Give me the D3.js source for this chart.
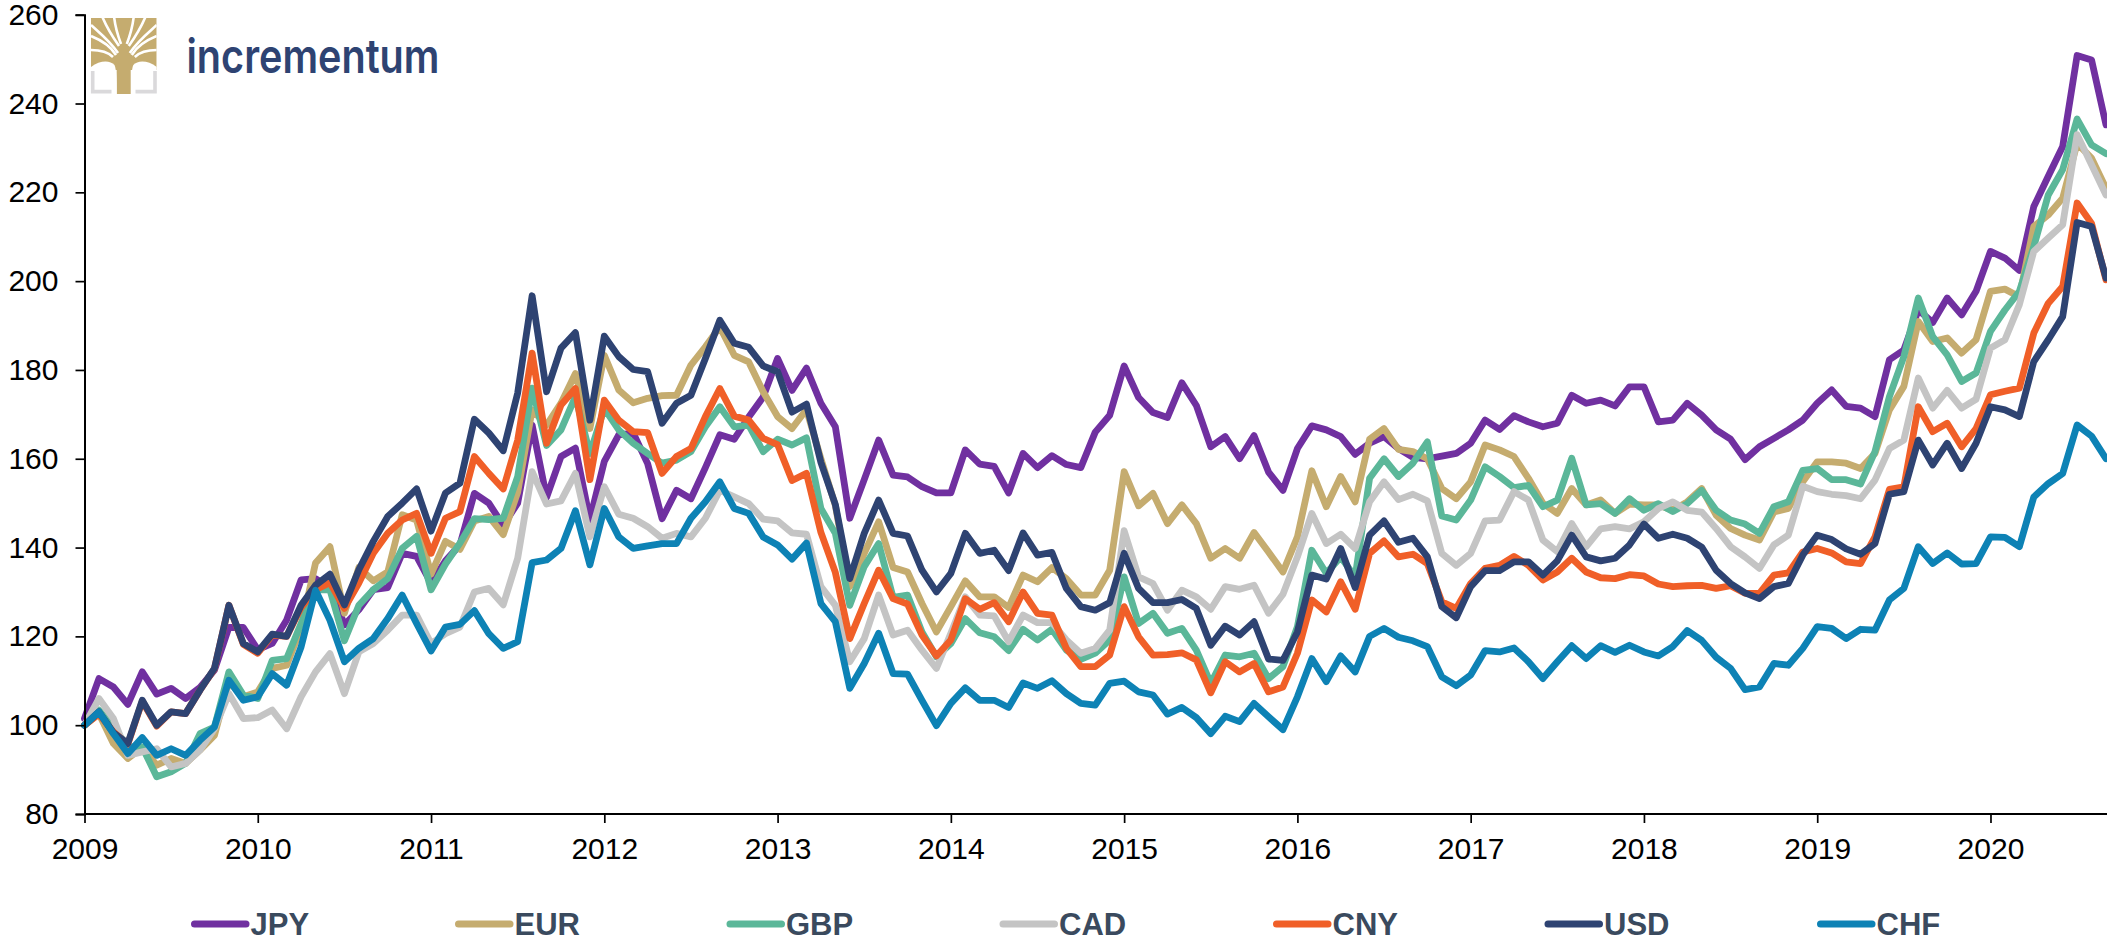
<!DOCTYPE html>
<meta charset="utf-8">
<style>
body { margin: 0; background: #fff; overflow: hidden; }
svg { display: block; }
text { font-family: "Liberation Sans", Arial, sans-serif; }
</style>
<body>
<div id="chart"><svg></svg></div>
<script src="https://cdn.jsdelivr.net/npm/d3@7"></script>
<script>

var currencies = ["JPY", "EUR", "GBP", "CAD", "CNY", "USD", "CHF"];
var yTicks = [80, 100, 120, 140, 160, 180, 200, 220, 240, 260];
var yearTicks = [2009, 2010, 2011, 2012, 2013, 2014, 2015, 2016, 2017, 2018, 2019, 2020];

// monthly, Jan 2009 to Sep 2020, one row per year
var JPY = [
  101.5,110.5,108.6,104.7,112,107,108.3,106,108.5,112.4,122,122,
  117,118.4,123.7,132.7,133,131,122.6,126,130.5,131,138.7,138,
  132,137,140.6,152.2,150,145,150,167.6,151.3,160.5,162.4,146.3,
  159.4,165.4,165.8,158.9,146.5,152.9,151,158,165.4,164.4,169.4,173.9,
  182.6,175.4,180.4,172.5,167.2,146.6,155.3,164.2,156.3,155.9,153.7,152.3,
  152.3,162,158.8,158.3,152.3,161.2,158,160.7,158.7,158,166,169.8,
  180.9,173.8,170.4,169.3,177.1,172,162.7,165,160,165.2,157,152.9,
  162.3,167.4,166.5,165,161,163.5,165,162.3,160.3,160,160.6,161.2,
  163.5,168.7,166.6,169.7,168.3,167.2,168,174.3,172.5,173.2,171.9,176.2,
  176.2,168.3,168.7,172.5,169.8,166.5,164.4,159.8,162.7,164.6,166.5,168.7,
  172.5,175.5,171.8,171.4,169.5,182.3,184.5,193.5,190.7,196.2,192.4,197.7,
  206.7,205.2,202.4,216.8,223.6,230.3,250.8,249.8,235.2
];
var EUR = [
  100,102.6,95.9,92.5,95,91,92.5,91.4,94.4,97.7,109.8,106.4,
  107.5,112.8,113.5,122,136.5,140.2,125.2,135.5,132.5,134.5,147.4,146.2,
  134,141.4,139.6,146,147,142.9,152.5,171,167.6,172.5,179.2,166.8,
  183.3,175.5,172.6,173.6,174.2,174.3,181.1,185.2,189.7,183.3,181.8,175.1,
  169.5,166.8,171.1,160,149.5,131.2,138.7,145.8,135.5,134.5,127.4,121,
  126.7,132.5,128.9,128.9,126.5,133.8,132.3,135.5,133,129.3,129.3,134.9,
  157.1,149.4,152.2,145.4,149.6,145.4,137.6,139.8,137.6,143.4,139,134.5,
  142.4,157.3,149.2,156,150.3,164.4,166.8,162.1,161.6,160,153.3,151,
  154.8,163.1,162,160.5,155.6,150,147.7,153.3,149.6,150.7,147.7,149.8,
  149.6,149.6,148.4,150.3,153.3,147.3,144.3,142.8,141.7,148,148.8,154.8,
  159.3,159.3,159,157.8,161.2,171,176.3,190.9,186.4,187.2,183.8,186.8,
  197.7,198.2,196.5,212.3,214.9,218.7,231,227.7,220.9
];
var GBP = [
  100,103.4,99.6,95.1,95.1,88.4,89.5,91.4,98.1,99.6,112,106.8,
  106,114.6,115,122.9,130.5,130.5,119,127,130.5,133,139.8,142.5,
  130.5,136.3,141,146.5,146.3,146.6,156,175.9,163,166.5,174,161.2,
  171.3,166.5,163.5,161.2,159,159.7,161.6,167.2,171.7,167.2,167.6,161.6,
  164.4,163.1,164.7,148.8,143.2,127,135.7,140.9,128.8,129.3,121,115.4,
  118.4,124,120.8,119.9,116.8,121.6,119.2,121.6,116.9,114.8,116.2,119.2,
  133.4,122.9,125.2,120.7,121.8,116.9,109.4,115.8,115.4,116.2,110.5,113.2,
  122.2,139.4,134.2,137.9,133.4,155.6,160,156,159,163.8,147.1,146.2,
  150.7,158.2,156,153.5,154,149.2,150.7,160.1,149.6,149.9,147.7,151,
  148.4,149.9,148.1,149.9,152.9,148.4,146.2,145.3,143.2,149.2,150.3,157.4,
  157.8,155.3,155.3,154.3,161.6,174,183,196.2,187.5,183.4,177.4,179.3,
  188.7,193.5,197.7,207.8,219.4,225.1,236.5,230.7,228.7
];
var CAD = [
  100,106,101.5,93.2,94,94.7,90.6,91.4,94.4,99.2,107.1,101.5,
  101.7,103.4,99.2,106.4,112,116.1,107.1,116.5,118.4,121.4,124.8,124.8,
  118.4,120.6,122.1,130,130.8,127.1,137.6,157.1,149.8,150.5,156.7,142.4,
  153.7,147.5,146.6,144.7,142.1,143.2,142.4,146.6,152.9,151.4,149.9,146.4,
  146,143.3,143,131.2,127,114.3,119.5,129.3,120.3,121.4,116.9,112.8,
  120.7,128.9,124.8,124.6,118.8,124.8,123.1,123.1,119.2,116.2,117.3,121.4,
  143.8,133.4,131.9,125.9,130.4,128.9,126.1,131.2,130.6,131.5,125.2,129.5,
  137.9,147.7,140.9,143,139.8,150.3,154.8,150.8,152,150.5,138.7,136,
  138.7,146,146.2,152.6,150.7,141.7,139.1,145.4,140.2,144.2,144.7,144.2,
  145.8,148.8,150.3,148.4,148,144.3,140.2,137.9,135.3,140.6,142.8,153.8,
  152.6,152,151.7,151,155.2,162.3,164.2,178.2,171.4,175.4,171.4,173.4,
  184.9,186.8,194.7,206.7,209.7,212.7,233,226.2,219.4
];
var CNY = [
  100,102.5,98.5,95.7,105.4,99.8,103,102.6,107.9,112.7,127,118.2,
  116.2,120.3,120,126.5,130.5,132.1,126.3,132,138.7,143.2,146.2,147.7,
  138.7,146.6,148.1,160.5,156.7,153.2,164.2,183.8,163.5,172.1,175.8,155.3,
  173.2,168.7,166.1,165.9,156.7,160.5,162.3,169.5,175.8,169.6,168.7,164.6,
  163.2,155.1,156.7,143.4,134.4,119.5,127.4,134.9,128.5,127.3,120.3,115.6,
  119.2,128.5,126.1,127.6,123.3,130,125.2,124.8,117.3,113.2,113.2,115.8,
  126.7,119.9,115.8,115.9,116.3,114.7,107.3,114.3,112,113.9,107.5,108.6,
  116.2,128.2,125.5,132.3,126.1,138.7,141.5,137.9,138.5,136.4,127.8,126.3,
  131.9,135.3,136,138,136,132.7,134.5,137.6,134.5,133.2,133,133.9,
  133.6,131.8,131.2,131.4,131.5,130.8,131.4,129.7,129.7,133.8,134.3,139,
  139.8,138.8,136.8,136.4,142.4,153.1,153.7,171.7,166.1,168,162.7,166.8,
  174.4,175.2,175.9,188.3,195,198.8,217.6,213,200.3
];
var USD = [
  100,103,98.3,95.9,105.6,100,103,102.6,107.9,112.8,127,118.4,
  116.5,120.5,120,127,131.5,134,127.1,135,141.4,147,150,153.2,
  143.7,152.3,154.5,168.9,165.8,161.8,174.8,196.7,175.1,184.9,188.4,168.7,
  187.6,183,180.1,179.6,168,172.5,174.3,182.6,191.2,186,185.1,180.9,
  179.6,170.5,172.3,159.2,149.7,133,143.2,150.7,143.2,142.6,134.9,130,
  134.2,143.2,138.7,139.4,134.8,143.3,138.3,138.9,130.8,126.7,125.9,127.6,
  138.7,130.8,127.6,127.6,128.3,126.3,118,122.3,120.3,123.3,114.9,114.6,
  121,133.8,132.9,139.8,131,142.8,146,141.2,142.1,137.9,126.7,124.2,
  131.2,134.8,134.8,136.8,136.8,133.8,137,142.8,137.9,137,137.6,140.6,
  145.3,142.1,143,142.1,140.1,134.9,131.9,129.8,128.5,131.2,131.9,138.3,
  142.8,141.8,139.7,138.5,140.9,152,152.6,164.2,158.6,163.5,157.8,163.5,
  171.7,171,169.5,181.9,186.8,192,213.2,212.3,200.7
];
var CHF = [
  100,103,98.1,93.6,97.2,93.2,94.7,93.2,96.6,99.6,110.1,105.6,
  106.4,111.6,109,117.6,130.4,123.6,114.3,117.3,119.5,124,129.3,122.9,
  116.7,122.1,122.7,125.8,120.6,117.3,118.8,136.6,137.2,139.8,148.3,136.1,
  148.8,142.4,139.8,140.4,140.9,140.9,146.6,150.3,154.8,148.8,147.7,142.4,
  140.6,137.4,141,127.4,123.3,108.3,113.9,120.7,111.6,111.5,105.6,99.9,
  104.9,108.4,105.6,105.6,104,109.5,108.3,110,107.1,104.9,104.5,109.4,
  109.9,107.5,106.8,102.5,104,101.7,98.1,102,100.8,104.9,101.9,99,
  106.4,115,109.8,115.6,112,120,121.8,119.8,119,117.7,110.9,108.9,
  111.3,116.8,116.5,117.4,114.3,110.5,114.3,117.9,115,117.9,116.4,118,
  116.5,115.6,117.7,121.3,119.1,115.3,112.8,108,108.6,113.9,113.5,117.3,
  122.2,121.8,119.5,121.6,121.4,128.2,130.8,140.2,136.4,138.8,136.3,136.4,
  142.4,142.3,140.2,151.4,154.4,156.7,167.6,165.1,160
];
var seriesValues = [JPY, EUR, GBP, CAD, CNY, USD, CHF];

var colors = ["#7030A0", "#C5AC6F", "#5BB799", "#C4C4C4", "#F05F28", "#2E4372", "#0D82B5"];

var width = 2107, height = 936;
var svg = d3.select("#chart svg").attr("width", width).attr("height", height);

var x = d3.scaleLinear().domain([2009, 2009 + 140 / 12]).range([84.5, 2106]);
var y = d3.scaleLinear().domain([80, 260]).range([814, 14.7]);

var line = d3.line()
    .x(function(d, i) { return x(2009 + i / 12); })
    .y(function(d) { return y(d); });

svg.selectAll(".series")
    .data(seriesValues)
  .enter().append("path")
    .attr("class", "series")
    .attr("d", line)
    .attr("fill", "none")
    .attr("stroke", function(d, i) { return colors[i]; })
    .attr("stroke-width", 6.8)
    .attr("stroke-linejoin", "round")
    .attr("stroke-linecap", "round");

// axes
var yAxis = d3.axisLeft(y).tickValues(yTicks).tickSize(9).tickPadding(17).tickFormat(d3.format("d"));
var xAxis = d3.axisBottom(x).tickValues(yearTicks).tickSize(9).tickPadding(14.5).tickFormat(d3.format("d"));

var gy = svg.append("g").attr("transform", "translate(84.5,0)").call(yAxis);
var gx = svg.append("g").attr("transform", "translate(0,814)").call(xAxis);
gx.select(".domain").attr("d", "M84.5,0H2107");

svg.selectAll(".domain").attr("stroke", "#000").attr("stroke-width", 2);
svg.selectAll(".tick line").attr("stroke", "#000").attr("stroke-width", 1.7);
svg.selectAll(".tick text")
    .attr("fill", "#000")
    .style("font-size", "30px");

// legend
var legendLeft = [191.5, 455.5, 727, 1000, 1273.5, 1545, 1817.5];
var legend = svg.selectAll(".legend")
    .data(currencies)
  .enter().append("g")
    .attr("class", "legend")
    .attr("transform", function(d, i) { return "translate(" + legendLeft[i] + ",924)"; });

legend.append("line")
    .attr("x1", 3).attr("x2", 54.5)
    .attr("stroke", function(d, i) { return colors[i]; })
    .attr("stroke-width", 7)
    .attr("stroke-linecap", "round");

legend.append("text")
    .attr("x", 59)
    .attr("y", 10.5)
    .attr("fill", "#3A4A5E")
    .style("font-size", "31px")
    .style("font-weight", "bold")
    .text(function(d) { return d; });

// logo: gold block with the branches cut out of it in white
var logo = svg.append("g").attr("class", "logo");
var gold = "#C5AC6F";

logo.append("clipPath").attr("id", "logoclip")
  .append("rect").attr("x", 91).attr("y", 18).attr("width", 65.7).attr("height", 76);

var tree = logo.append("g").attr("clip-path", "url(#logoclip)");

tree.append("rect").attr("x", 91).attr("y", 18).attr("width", 65.7).attr("height", 52).attr("fill", gold);
tree.append("rect").attr("x", 116.7).attr("y", 60).attr("width", 14).attr("height", 34).attr("fill", gold);

var halves = tree.selectAll(".half")
    .data(["", "translate(247.8,0) scale(-1,1)"])
  .enter().append("g")
    .attr("class", "half")
    .attr("transform", function(d) { return d; });

halves.append("path")
    .attr("fill", "#fff")
    .attr("d", "M91,71 L91,67 C100,60 110,60 114.5,65 C116.5,70 116.7,80 116.7,94 L91,94 Z");

halves.selectAll(".gap")
    .data([
      "M91,25 C101,34 110,41 118,53",
      "M91,36 C101,40 110,45 116,55",
      "M91,50 C100,50 108,52 113,57",
      "M102,16 C106,26 112,36 119,46",
      "M114,16 C115,26 118,36 121,44"
    ])
  .enter().append("path")
    .attr("class", "gap")
    .attr("fill", "none")
    .attr("stroke", "#fff")
    .attr("stroke-width", 2.6)
    .attr("d", function(d) { return d; });

logo.selectAll(".bracket")
    .data(["M92.7,71 V91.6 H111.5", "M155,71 V91.6 H135.5"])
  .enter().append("path")
    .attr("class", "bracket")
    .attr("fill", "none")
    .attr("stroke", "#DAD9DB")
    .attr("stroke-width", 3.6)
    .attr("d", function(d) { return d; });

logo.append("text")
    .attr("x", 186.5)
    .attr("y", 73)
    .attr("fill", "#2E4372")
    .attr("textLength", 253)
    .attr("lengthAdjust", "spacingAndGlyphs")
    .style("font-family", "Inter, sans-serif")
    .style("font-size", "47px")
    .style("font-weight", 600)
    .text("incrementum");

</script>
</body>
